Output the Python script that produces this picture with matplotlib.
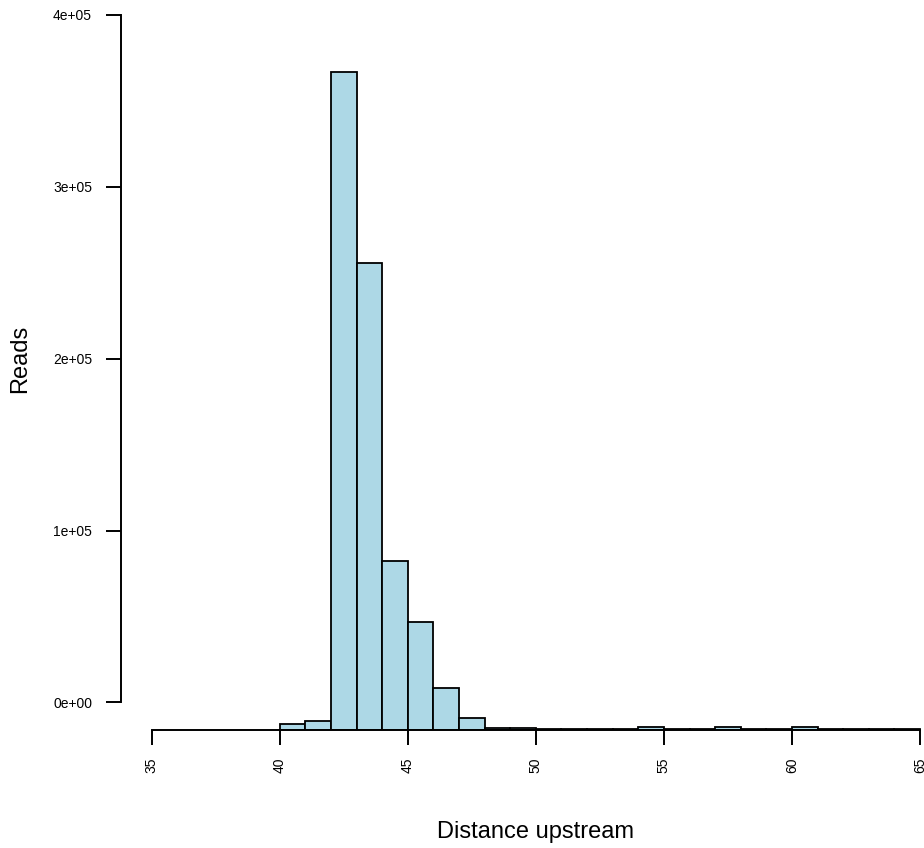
import matplotlib
matplotlib.use('Agg')
import matplotlib.pyplot as plt
import numpy as np

W, H = 924, 848
DPI = 100
FONT = 'Liberation Sans'

# histogram data (bin edges at whole numbers, counts)
bin_edges = list(range(40, 66))
counts = [3200, 5200, 382800, 271800, 98500, 63100, 24300, 6900, 1000, 1000,
          400, 400, 400, 400, 1600, 400, 400, 1600, 400, 400,
          2000, 400, 400, 400, 400]
x_ticks = [35, 40, 45, 50, 55, 60, 65]
y_ticks = [0, 100000, 200000, 300000, 400000]
y_tick_labels = ['0e+00', '1e+05', '2e+05', '3e+05', '4e+05']

# R-style 4% range extension
XLIM = (33.8, 66.2)
YLIM = (-16000, 416000)

plt.rcParams['font.family'] = FONT

fig = plt.figure(figsize=(W / DPI, H / DPI), dpi=DPI)
fig.patch.set_facecolor('white')

left_px, bottom_px = 121, 730
px_per_x = 25.61
px_per_y = 171.9 / 100000
ax_w = (XLIM[1] - XLIM[0]) * px_per_x
ax_h = (YLIM[1] - YLIM[0]) * px_per_y
ax = fig.add_axes([left_px / W, (H - bottom_px) / H, ax_w / W, ax_h / H])
ax.set_xlim(*XLIM)
ax.set_ylim(*YLIM)

ax.bar(bin_edges[:-1], counts, width=1, align='edge', bottom=YLIM[0],
       color='#add8e6', edgecolor='black', linewidth=1.3)

for s in ['top', 'right']:
    ax.spines[s].set_visible(False)
ax.spines['left'].set_bounds(0, 400000)
ax.spines['bottom'].set_bounds(35, 65)
for s in ['left', 'bottom']:
    ax.spines[s].set_linewidth(1.4)

ax.set_xticks(x_ticks)
ax.set_xticklabels([str(t) for t in x_ticks], rotation=90, fontsize=10)
ax.set_yticks(y_ticks)
ax.set_yticklabels(y_tick_labels, fontsize=10)
ax.tick_params(axis='both', direction='out', length=10.8, width=1.4, pad=9)
ax.tick_params(axis='y', pad=10)

fig.text(535.5 / W, 1 - 832 / H, 'Distance upstream', ha='center', va='center',
         fontsize=17)
fig.text(20 / W, 1 - 358.6 / H, 'Reads', ha='center', va='center',
         rotation=90, fontsize=17)

fig.savefig('out.png', dpi=DPI)
